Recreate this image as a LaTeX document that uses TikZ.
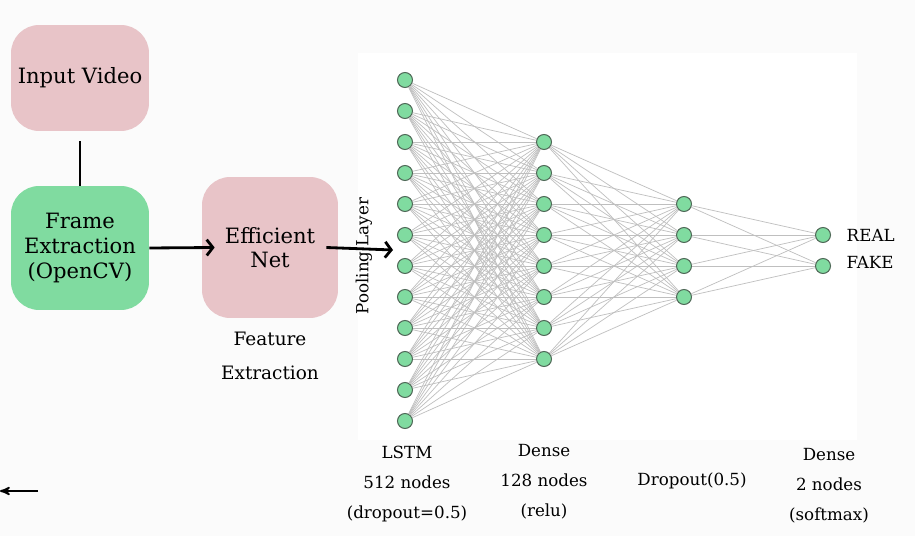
\documentclass[tikz,border=0pt]{standalone}
\usepackage{fontspec}
\setmainfont{DejaVu Serif}
\usetikzlibrary{arrows,arrows.meta}
\usetikzlibrary{positioning}
\definecolor{boxpink}{RGB}{232,196,200}
\definecolor{boxgreen}{RGB}{128,219,160}
\definecolor{pagegray}{RGB}{251,251,251}
\definecolor{ringgray}{RGB}{80,105,88}

\begin{document}
\begin{tikzpicture}[x=0.02cm,y=-0.02cm,>={Straight Barb[length=3.5pt,width=9pt]},
                        block/.style={rounded corners=16pt,inner sep=2pt,align=center,font=\fontsize{12}{14}\selectfont},
                        neuron/.style={circle,draw=ringgray,fill=boxgreen,line width=0.6pt,minimum size=0.3cm,inner sep=0pt},
                        link/.style={draw=gray!50,line width=0.4pt},
                        caption/.style={align=center,font=\fontsize{9.5}{17}\selectfont}]

      % page and panel
      \fill[pagegray] (0,0) rectangle (915,536);
      \fill[white] (358,53) rectangle (857,440);
      \useasboundingbox (0,0) rectangle (915,536);

      \node[block,fill=boxpink,minimum width=2.76cm,minimum height=2.12cm] (video) at (80,78) {Input Video};
      \node[block,fill=boxgreen,minimum width=2.76cm,minimum height=2.48cm] (frame) at (80,248) {Frame\\Extraction\\(OpenCV)};
      \node[block,fill=boxpink,minimum width=2.72cm,minimum height=2.82cm] (effnet) at (270,247.5) {Efficient\\Net};
      \node[caption,font=\fontsize{10.5}{19}\selectfont] (feat) at (270,356) {Feature\\Extraction};
      \node[caption,rotate=90] (pool) at (364,256) {Pooling Layer};
      \coordinate (poolin) at (393,250);

      \draw[line width=1.6pt] ([yshift=-0.2cm]video.south) -- (frame.north);
      \draw[->,line width=1.6pt] (frame.east) -- ([xshift=0.26cm]effnet.west);
      \draw[->,line width=1.6pt] ([xshift=-0.24cm]effnet.east) -- (poolin);

      % layers
      \foreach \i in {1,...,12}
        \node[neuron] (i\i) at (405,49+31*\i) {};
      \foreach \i in {1,...,8}
        \node[neuron] (h\i) at (544,111+31*\i) {};
      \foreach \i in {1,...,4}
        \node[neuron] (d\i) at (684,173+31*\i) {};
      \foreach \i in {1,2}
        \node[neuron] (o\i) at (823,204+31*\i) {};

      \foreach \a in {1,...,12}
        \foreach \b in {1,...,8}
          \draw[link] (i\a) -- (h\b);
      \foreach \a in {1,...,8}
        \foreach \b in {1,...,4}
          \draw[link] (h\a) -- (d\b);
      \foreach \a in {1,...,4}
        \foreach \b in {1,2}
          \draw[link] (d\a) -- (o\b);

      \node[caption,right=0.19cm of o1] (real) {REAL};
      \node[caption,right=0.19cm of o2,yshift=0.08cm] (fake) {FAKE};

      \node[caption] (lstm) at (407,484) {LSTM\\512 nodes\\(dropout=0.5)};
      \node[caption] (dense1) at (544,482) {Dense\\128 nodes\\(relu)};
      \node[caption] (drop) at (692,481) {Dropout(0.5)};
      \node[caption] (dense2) at (829,486) {Dense\\2 nodes\\(softmax)};

      \coordinate (stub) at (38,491);
      \coordinate (rim) at (0,491);
      \draw[->,>=stealth',line width=1pt] (stub) -- (rim);
    \end{tikzpicture}
\end{document}
